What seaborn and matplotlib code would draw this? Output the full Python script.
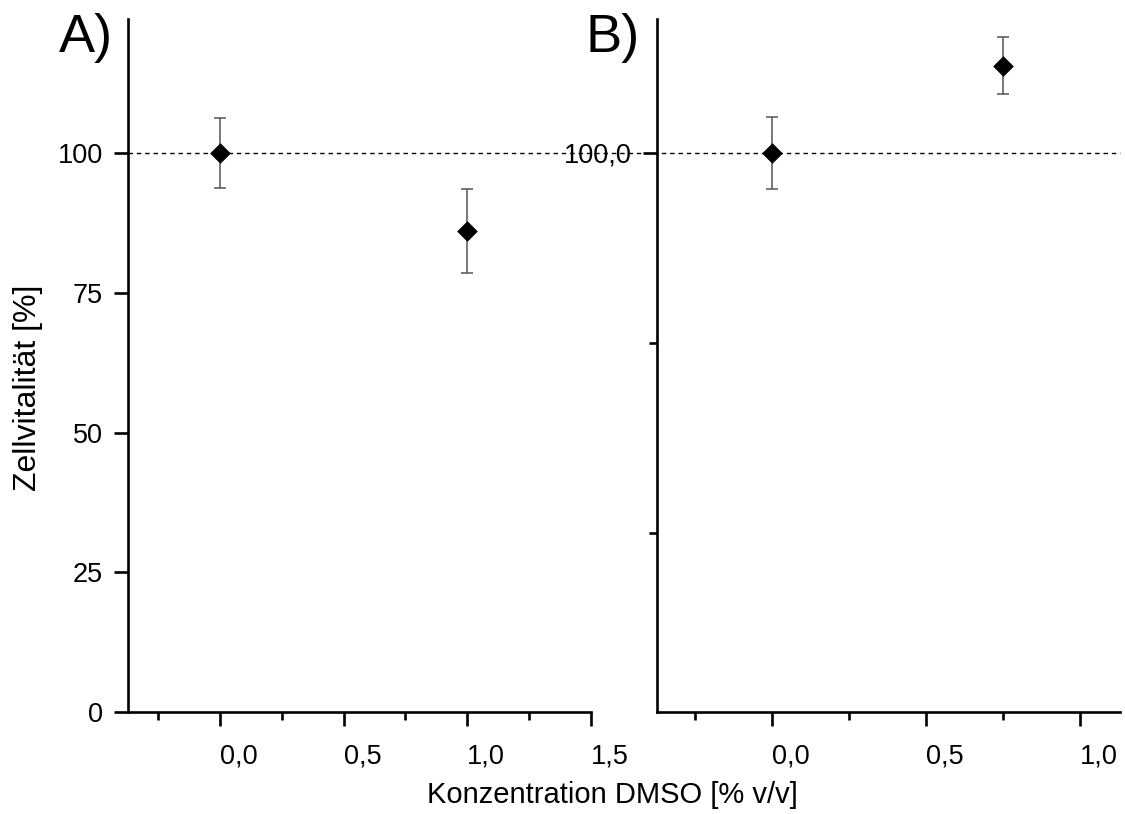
import numpy as np
import pandas as pd
import matplotlib
matplotlib.use("Agg")
import matplotlib.pyplot as plt
import matplotlib.transforms as mtransforms
from matplotlib.ticker import FixedLocator, FuncFormatter
import seaborn as sns

# Panel A: cell viability vs DMSO concentration
conc_a = [0.0, 1.0]
viab_a = [100.0, 86.0]
err_a = [6.3, 7.5]

# Panel B
conc_b = [0.0, 0.75]
viab_b = [100.0, 104.6]
err_b = [1.9, 1.5]

xticks_a = [0.0, 0.5, 1.0, 1.5]
xminor_a = [-0.25, 0.25, 0.75, 1.25]
yticks_a = [0, 25, 50, 75, 100]
xticks_b = [0.0, 0.5, 1.0]
xminor_b = [-0.25, 0.25, 0.75]
yticks_b = [100.0]
yminor_b = [80.0, 90.0]

sns.set_theme(style="ticks")
plt.rcParams["font.family"] = ["Liberation Sans", "DejaVu Sans"]
plt.rcParams.update({
    "text.color": "black",
    "axes.labelcolor": "black",
    "xtick.color": "black",
    "ytick.color": "black",
    "axes.edgecolor": "black",
})

fig = plt.figure(figsize=(11.25, 8.14), dpi=100)
axA = fig.add_axes([0.1138, 0.1253, 0.4115, 0.8514])
axB = fig.add_axes([0.5840, 0.1253, 0.4116, 0.8514])

def comma(v, pos=None, fmt="{:.1f}"):
    return fmt.format(v).replace(".", ",")

def style_axis(ax):
    sns.despine(ax=ax)
    for side in ("left", "bottom"):
        ax.spines[side].set_linewidth(1.9)
        ax.spines[side].set_color("black")
    ax.tick_params(which="major", direction="out", length=10, width=1.9,
                   color="black", labelsize=19.5, labelcolor="black")
    ax.tick_params(which="minor", direction="out", length=5.5, width=1.9,
                   color="black")
    ax.tick_params(axis="x", which="major", pad=13)
    ax.tick_params(axis="y", which="major", pad=8)
    ax.patch.set_alpha(0)

def draw_points(ax, x, y, err):
    df = pd.DataFrame({"x": x, "y": y})
    ax.errorbar(x, y, yerr=err, fmt="none", ecolor="#555555",
                elinewidth=1.1, capsize=4, capthick=1.1, zorder=3)
    sns.scatterplot(data=df, x="x", y="y", ax=ax, marker="D", s=100,
                    color="black", edgecolor="black", linewidth=0.5,
                    zorder=4, legend=False)
    ax.set_xlabel("")
    ax.set_ylabel("")

# Panel A
draw_points(axA, conc_a, viab_a, err_a)
axA.set_xlim(-0.372, 1.5)
axA.set_ylim(0, 124.0)
axA.xaxis.set_major_locator(FixedLocator(xticks_a))
axA.xaxis.set_minor_locator(FixedLocator(xminor_a))
axA.xaxis.set_major_formatter(FuncFormatter(comma))
axA.yaxis.set_major_locator(FixedLocator(yticks_a))
axA.yaxis.set_major_formatter(FuncFormatter(lambda v, p: f"{v:.0f}"))
style_axis(axA)

# Panel B
draw_points(axB, conc_b, viab_b, err_b)
axB.set_xlim(-0.373, 1.13)
axB.set_ylim(70.58, 107.05)
axB.xaxis.set_major_locator(FixedLocator(xticks_b))
axB.xaxis.set_minor_locator(FixedLocator(xminor_b))
axB.xaxis.set_major_formatter(FuncFormatter(comma))
axB.yaxis.set_major_locator(FixedLocator(yticks_b))
axB.yaxis.set_minor_locator(FixedLocator(yminor_b))
axB.yaxis.set_major_formatter(FuncFormatter(comma))
style_axis(axB)

for ax in (axA, axB):
    for lab in ax.get_xticklabels():
        lab.set_horizontalalignment("left")

# 100 % reference line running across both panels
trans = mtransforms.blended_transform_factory(fig.transFigure, axA.transData)
axA.plot([0.1138, 0.9956], [100, 100], transform=trans, clip_on=False,
         color="black", linewidth=1.0, dashes=(3.2, 2.8), zorder=2)

# Panel letters
fig.text(0.1005, 0.984, "A)", fontsize=39, ha="right", va="top")
fig.text(0.5690, 0.984, "B)", fontsize=39, ha="right", va="top")

# Axis titles
fig.text(0.025, 1 - 388 / 814, "Zellvitalität [%]", fontsize=23,
         rotation=90, ha="center", va="center")
fig.text(0.544, 0.013, "Konzentration DMSO [% v/v]", fontsize=21,
         ha="center", va="baseline")

fig.savefig("out.png", dpi=100, facecolor="white")
